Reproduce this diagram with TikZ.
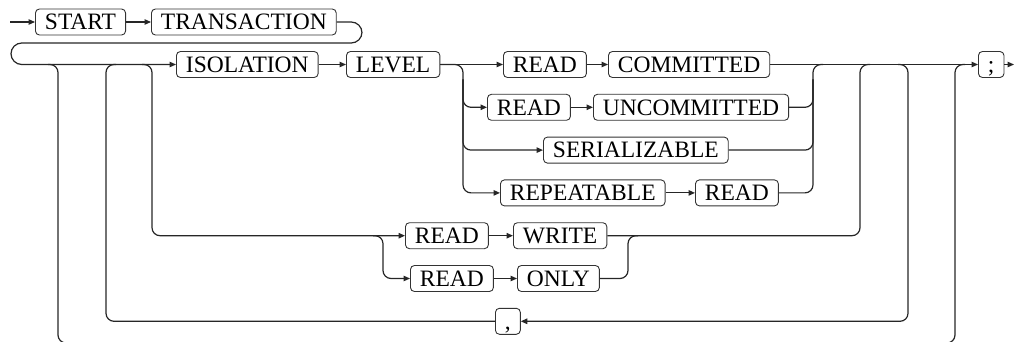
\documentclass[tikz,border=0pt]{standalone}
\usepackage{fontspec}
\setmainfont{Liberation Serif}
\usetikzlibrary{arrows.meta,calc}

\begin{document}
\begin{tikzpicture}[x=1pt,y=-1pt,
    line/.style={draw=black!85,line width=1.2pt,rounded corners=8pt},
    arr/.style={line,-{Triangle[length=6.5pt,width=5.5pt]}},
    kw/.style={draw=black!80,line width=0.9pt,rounded corners=4pt,anchor=west,
      minimum height=26pt,inner xsep=9.5pt,inner ysep=0pt,
      text height=15.5pt,text depth=0pt,font=\fontsize{23.5}{28}\selectfont}]
  \useasboundingbox (0,0) rectangle (1018,342);
  % keywords
  \node[kw] (start) at (35,22) {START};
  \node[kw] (trans) at (151,22) {TRANSACTION};
  \node[kw] (iso) at (176,64.5) {ISOLATION};
  \node[kw] (level) at (346,64.5) {LEVEL};
  \node[kw] (readc) at (503,64.5) {READ};
  \node[kw] (commit) at (608,64.5) {COMMITTED};
  \node[kw] (readu) at (487,107.3) {READ};
  \node[kw] (uncom) at (593,107.3) {UNCOMMITTED};
  \node[kw] (serial) at (543,150.1) {SERIALIZABLE};
  \node[kw] (repeat) at (500,192.9) {REPEATABLE};
  \node[kw] (readr) at (695,192.9) {READ};
  \node[kw] (readw) at (405,235.7) {READ};
  \node[kw] (write) at (513,235.7) {WRITE};
  \node[kw] (reado) at (410,278.5) {READ};
  \node[kw] (only) at (517,278.5) {ONLY};
  \node[kw] (comma) at (495,321.3) {,};
  \node[kw] (semi) at (978,64.5) {;};
  % junctions
  \coordinate (in) at (10,22);
  \coordinate (out) at (1014,64.5);
  \coordinate (byL) at (58,64.5);
  \coordinate (byR) at (955,64.5);
  \coordinate (repL) at (106,64.5);
  \coordinate (repR) at (908,64.5);
  \coordinate (rwL) at (152,64.5);
  \coordinate (rwR) at (860,64.5);
  \coordinate (isoL) at (463,64.5);
  \coordinate (isoR) at (813,64.5);
  \coordinate (roL) at (383,235.7);
  \coordinate (roR) at (628,235.7);
  % main line
  \draw[arr] (in) -- (start);
  \draw[arr] (start) -- (trans);
  \draw[arr,rounded corners=10.75pt] (trans) -- (362,22) -- (362,43) -- (11,43) -- (11,64.5) -- (iso);
  \draw[arr] (iso) -- (level);
  \draw[arr] (level) -- (readc);
  \draw[arr] (readc) -- (commit);
  \draw[arr] (commit) -- (semi);
  \draw[arr] (semi) -- (out);
  % isolation levels
  \draw[arr] (level.east) -- (isoL) |- (repeat);
  \draw[arr] ($(isoL)+(0,15)$) |- (readu);
  \draw[arr] ($(isoL)+(0,15)$) |- (serial);
  \draw[arr] (readu) -- (uncom);
  \draw[arr] (repeat) -- (readr);
  \draw[line] (readr) -| (isoR) -- ++(10,0);
  \draw[line] (uncom) -| ($(isoR)+(0,15)$);
  \draw[line] (serial) -| ($(isoR)+(0,15)$);
  % read write / read only
  \draw[arr] ($(rwL)+(-10,0)$) -- (rwL) |- (readw);
  \draw[arr] ($(roL)+(-10,0)$) -- (roL) |- (reado);
  \draw[arr] (readw) -- (write);
  \draw[arr] (reado) -- (only);
  \draw[line] (write) -| (rwR) -- ++(10,0);
  \draw[line] (only) -| (roR) -- ++(10,0);
  % repeat with comma
  \draw[arr] ($(repR)+(-10,0)$) -- (repR) |- (comma);
  \draw[line] (comma) -| (repL) -- ++(10,0);
  % skip all
  \draw[line] ($(byL)+(-10,0)$) -- (byL) -- (58,343) -| (byR) -- ++(10,0);
\end{tikzpicture}
\end{document}
